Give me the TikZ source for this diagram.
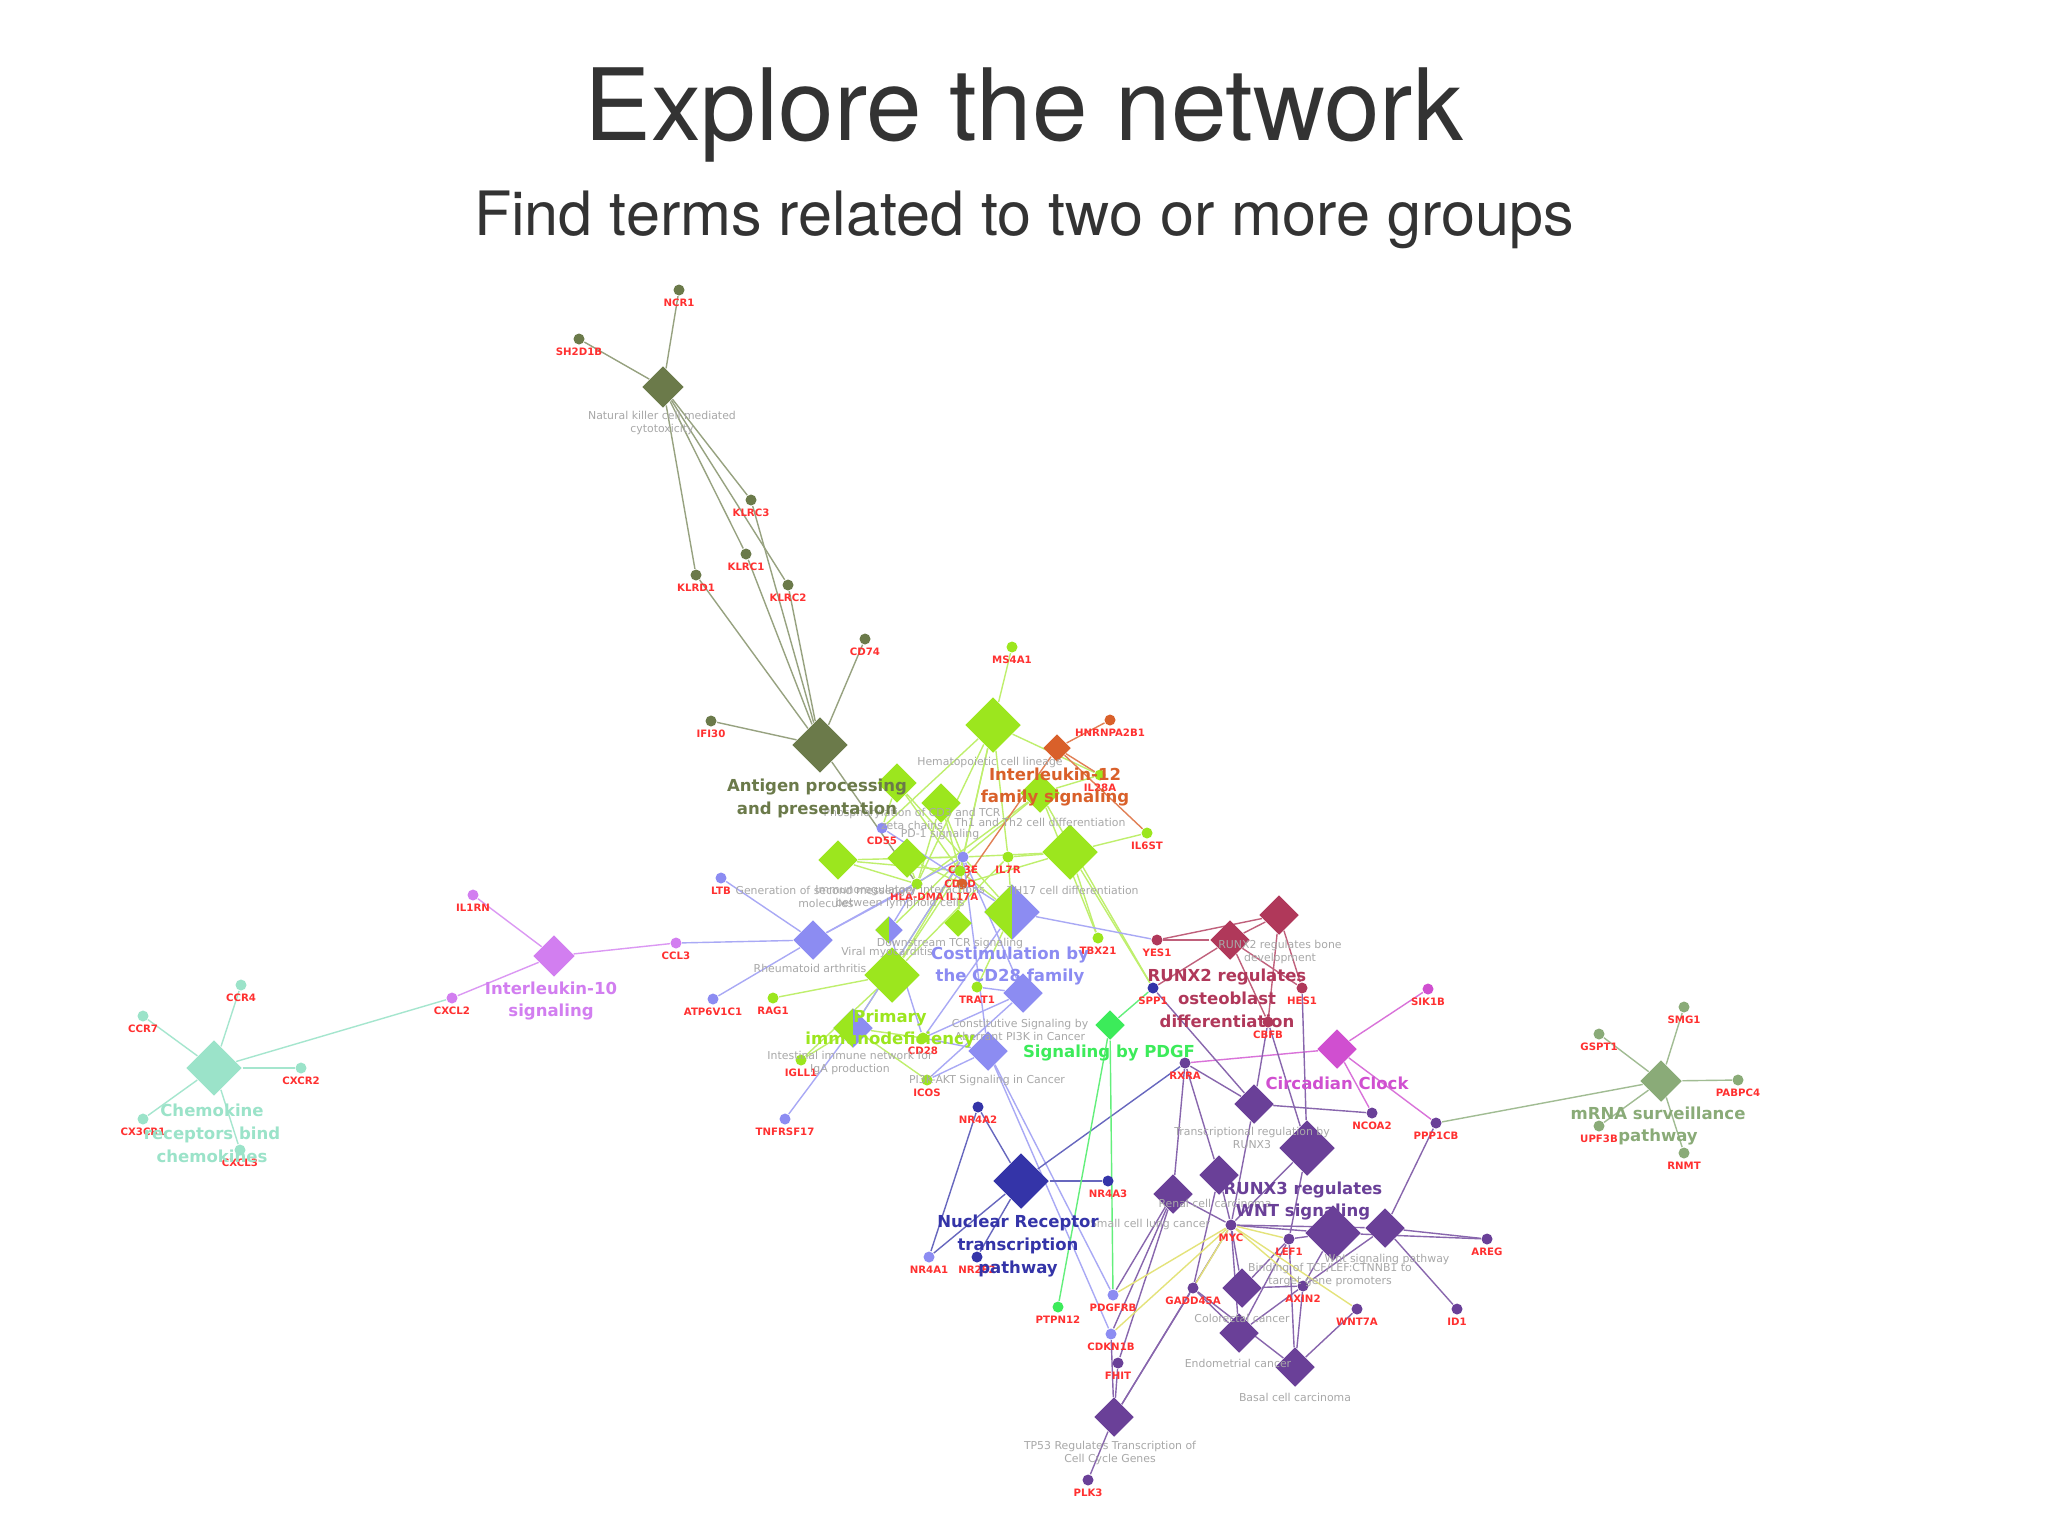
\documentclass[tikz,border=0pt]{standalone}
\usepackage{fontspec}
\usepackage{tikz}
\usetikzlibrary{shapes.geometric}
\usetikzlibrary{backgrounds}
\newfontfamily\netfont{DejaVu Sans}
\newfontfamily\headfont{TeX Gyre Heros}
\definecolor{olv}{HTML}{6B7A4A}
\definecolor{limeg}{HTML}{9CE61E}
\definecolor{orng}{HTML}{D9602A}
\definecolor{peri}{HTML}{8C8CF2}
\definecolor{vio}{HTML}{D27EF0}
\definecolor{mint}{HTML}{9BE3C9}
\definecolor{crim}{HTML}{B0385A}
\definecolor{mag}{HTML}{D04FD0}
\definecolor{purp}{HTML}{6A4098}
\definecolor{nrblue}{HTML}{3434A8}
\definecolor{pdgfg}{HTML}{3CEB5A}
\definecolor{sage}{HTML}{8AAB78}
\definecolor{genered}{HTML}{FF3030}
\definecolor{termgray}{HTML}{A8A8A8}
\definecolor{yel}{HTML}{E4E37A}
\tikzstyle{gene}=[circle,
inner sep=0pt,
minimum size=1.1mm,
fill=#1]
\tikzstyle{term}=[diamond,
inner sep=0pt,
minimum size=4mm,
fill=#1]
\tikzstyle{bigterm}=[term=#1,
minimum size=5.6mm]
\tikzstyle{smallterm}=[term=#1,
minimum size=2.8mm]
\tikzstyle{split}=[diamond,
inner sep=0pt,
fill=peri,
path picture={\fill[limeg] (path picture bounding box.south west) rectangle (path picture bounding box.north);}]
\tikzstyle{glbl}=[font=\netfont\fontsize{2.9}{3.4}\selectfont\bfseries,
text=genered,
inner sep=0.5pt]
\tikzstyle{tlbl}=[font=\netfont\fontsize{3.1}{3.9}\selectfont,
text=termgray,
align=center,
inner sep=0pt]
\tikzstyle{biglbl}=[font=\netfont\fontsize{4.7}{6.5}\selectfont\bfseries,
text=#1,
align=center,
inner sep=0pt]
\tikzstyle{link}=[draw=#1,
line width=0.14mm]

\begin{document}
\begin{tikzpicture}[x=0.1mm,y=-0.1mm]
	\useasboundingbox (0,0) rectangle (2048,1536);
	
	% Heading of the slide
	\node[anchor=base,inner sep=0pt,text=black!80,font=\headfont\fontsize{28.4}{34}\selectfont] (title) at (1024,140) {Explore the network};
	\node[anchor=base,inner sep=0pt,text=black!80,font=\headfont\fontsize{17.4}{21}\selectfont] (subtitle) at (1024,235) {Find terms related to two or more groups};
	
	% Natural killer / antigen group
	\node[term=olv,minimum size=4.2mm] (nk) at (663,387) {};
	\node[gene=olv,label={[glbl]below:NCR1}] (ncr1) at (679,290) {};
	\node[gene=olv,label={[glbl]below:SH2D1B}] (sh2d1b) at (579,339) {};
	\node[gene=olv,label={[glbl]below:KLRC3}] (klrc3) at (751,500) {};
	\node[gene=olv,label={[glbl]below:KLRC1}] (klrc1) at (746,554) {};
	\node[gene=olv,label={[glbl]below:KLRD1}] (klrd1) at (696,575) {};
	\node[gene=olv,label={[glbl]below:KLRC2}] (klrc2) at (788,585) {};
	\node[bigterm=olv] (antigen) at (820,745) {};
	\node[gene=olv,label={[glbl]below:CD74}] (cd74) at (865,639) {};
	\node[gene=olv,label={[glbl]below:IFI30}] (ifi30) at (711,721) {};
	
	% T cell terms
	\node[gene=limeg,label={[glbl]below:MS4A1}] (ms4a1) at (1012,647) {};
	\node[bigterm=limeg] (g1) at (993,725) {};
	\node[term=limeg] (g2) at (897,783) {};
	\node[term=limeg] (g3) at (941,803) {};
	\node[term=limeg] (g4) at (1040,793) {};
	\node[term=limeg] (g5) at (838,860) {};
	\node[term=limeg] (g6) at (907,858) {};
	\node[bigterm=limeg] (g7) at (1070,852) {};
	\node[smallterm=limeg] (g8) at (958,923) {};
	\node[bigterm=limeg] (g9) at (892,975) {};
	\node[split,minimum size=2.8mm] (gs1) at (889,930) {};
	\node[split,minimum size=5.6mm] (gs2) at (1012,912) {};
	\node[split,minimum size=4mm] (gs3) at (853,1028) {};
	\node[smallterm=orng] (il12) at (1057,748) {};
	\node[term=peri] (b1) at (813,940) {};
	\node[term=peri] (b2) at (1023,993) {};
	\node[term=peri] (b3) at (988,1051) {};
	\node[smallterm=pdgfg,minimum size=3mm] (pdgf) at (1110,1025) {};
	\node[gene=orng,label={[glbl]below:HNRNPA2B1}] (hnrnp) at (1110,720) {};
	\node[gene=limeg,label={[glbl]below:IL28A}] (il28a) at (1100,775) {};
	\node[gene=limeg,label={[glbl]below:IL6ST}] (il6st) at (1147,833) {};
	\node[gene=peri,label={[glbl]below:CD55}] (cd55) at (882,828) {};
	\node[gene=peri,label={[glbl]below:CD3E}] (cd3e) at (963,857) {};
	\node[gene=limeg,label={[glbl]below:CD3D}] (cd3d) at (960,871) {};
	\node[gene=orng,label={[glbl]below:IL17A}] (il17a) at (962,884) {};
	\node[gene=limeg,label={[glbl]below:IL7R}] (il7r) at (1008,857) {};
	\node[gene=limeg,label={[glbl]below:HLA-DMA}] (hladma) at (917,884) {};
	\node[gene=peri,label={[glbl]below:LTB}] (ltb) at (721,878) {};
	\node[gene=vio,label={[glbl]below:CCL3}] (ccl3) at (676,943) {};
	\node[gene=peri,label={[glbl]below:ATP6V1C1}] (atp) at (713,999) {};
	\node[gene=limeg,label={[glbl]below:RAG1}] (rag1) at (773,998) {};
	\node[gene=limeg,label={[glbl]below:TRAT1}] (trat1) at (977,987) {};
	\node[gene=limeg,label={[glbl]below:TBX21}] (tbx21) at (1098,938) {};
	\node[gene=limeg,label={[glbl]below:CD28}] (cd28) at (923,1038) {};
	\node[gene=limeg,label={[glbl]below:IGLL1}] (igll1) at (801,1060) {};
	\node[gene=limeg,label={[glbl]below:ICOS}] (icos) at (927,1080) {};
	\node[gene=peri,label={[glbl]below:TNFRSF17}] (tnfrsf17) at (785,1119) {};
	
	% Interleukin-10 and chemokines
	\node[term=vio,minimum size=4.2mm] (il10) at (554,956) {};
	\node[gene=vio,label={[glbl]below:IL1RN}] (il1rn) at (473,895) {};
	\node[gene=vio,label={[glbl]below:CXCL2}] (cxcl2) at (452,998) {};
	\node[bigterm=mint] (chm) at (214,1068) {};
	\node[gene=mint,label={[glbl]below:CCR4}] (ccr4) at (241,985) {};
	\node[gene=mint,label={[glbl]below:CCR7}] (ccr7) at (143,1016) {};
	\node[gene=mint,label={[glbl]below:CXCR2}] (cxcr2) at (301,1068) {};
	\node[gene=mint,label={[glbl]below:CX3CR1}] (cx3cr1) at (143,1119) {};
	\node[gene=mint,label={[glbl]below:CXCL3}] (cxcl3) at (240,1150) {};
	
	% RUNX2 and circadian clock
	\node[term=crim] (r2a) at (1230,940) {};
	\node[term=crim] (r2b) at (1279,915) {};
	\node[gene=crim,label={[glbl]below:YES1}] (yes1) at (1157,940) {};
	\node[gene=nrblue,label={[glbl]below:SPP1}] (spp1) at (1153,988) {};
	\node[gene=crim,label={[glbl]below:HES1}] (hes1) at (1302,988) {};
	\node[gene=crim,label={[glbl]below:CBFB}] (cbfb) at (1268,1022) {};
	\node[term=mag] (circ) at (1337,1049) {};
	\node[gene=mag,label={[glbl]below:SIK1B}] (sik1b) at (1428,989) {};
	\node[gene=purp,label={[glbl]below:RXRA}] (rxra) at (1185,1063) {};
	\node[gene=purp,label={[glbl]below:NCOA2}] (ncoa2) at (1372,1113) {};
	\node[gene=purp,label={[glbl]below:PPP1CB}] (ppp1cb) at (1436,1123) {};
	
	% RUNX3 / WNT group
	\node[term=purp] (p1) at (1254,1104) {};
	\node[bigterm=purp] (p2) at (1307,1148) {};
	\node[term=purp] (p3) at (1219,1175) {};
	\node[term=purp] (p4) at (1173,1194) {};
	\node[bigterm=purp] (p5) at (1333,1233) {};
	\node[term=purp] (p6) at (1385,1228) {};
	\node[term=purp] (p7) at (1242,1288) {};
	\node[term=purp] (p8) at (1239,1333) {};
	\node[term=purp] (p9) at (1295,1367) {};
	\node[term=purp] (p10) at (1114,1417) {};
	\node[gene=purp,label={[glbl]below:MYC}] (myc) at (1231,1225) {};
	\node[gene=purp,label={[glbl]below:LEF1}] (lef1) at (1289,1239) {};
	\node[gene=purp,label={[glbl]below:GADD45A}] (gadd45a) at (1193,1288) {};
	\node[gene=purp,label={[glbl]below:AXIN2}] (axin2) at (1303,1286) {};
	\node[gene=purp,label={[glbl]below:WNT7A}] (wnt7a) at (1357,1309) {};
	\node[gene=purp,label={[glbl]below:ID1}] (id1) at (1457,1309) {};
	\node[gene=purp,label={[glbl]below:AREG}] (areg) at (1487,1239) {};
	\node[gene=peri,label={[glbl]below:PDGFRB}] (pdgfrb) at (1113,1295) {};
	\node[gene=peri,label={[glbl]below:CDKN1B}] (cdkn1b) at (1111,1334) {};
	\node[gene=purp,label={[glbl]below:FHIT}] (fhit) at (1118,1363) {};
	\node[gene=purp,label={[glbl]below:PLK3}] (plk3) at (1088,1480) {};
	\node[gene=pdgfg,label={[glbl]below:PTPN12}] (ptpn12) at (1058,1307) {};
	
	% Nuclear receptors
	\node[bigterm=nrblue] (nr) at (1021,1181) {};
	\node[gene=nrblue,label={[glbl]below:NR4A2}] (nr4a2) at (978,1107) {};
	\node[gene=nrblue,label={[glbl]below:NR4A3}] (nr4a3) at (1108,1181) {};
	\node[gene=peri,label={[glbl]below:NR4A1}] (nr4a1) at (929,1257) {};
	\node[gene=nrblue,label={[glbl]below:NR2F2}] (nr2f2) at (977,1257) {};
	
	% mRNA surveillance
	\node[term=sage,minimum size=4.2mm] (mrna) at (1661,1081) {};
	\node[gene=sage,label={[glbl]below:SMG1}] (smg1) at (1684,1007) {};
	\node[gene=sage,label={[glbl]below:GSPT1}] (gspt1) at (1599,1034) {};
	\node[gene=sage,label={[glbl]below:PABPC4}] (pabpc4) at (1738,1080) {};
	\node[gene=sage,label={[glbl]below:UPF3B}] (upf3b) at (1599,1126) {};
	\node[gene=sage,label={[glbl]below:RNMT}] (rnmt) at (1684,1153) {};
	
	% Names of the single terms
	\node[tlbl] (t-nk) at (662,423) {Natural killer cell mediated\\cytotoxicity};
	\node[tlbl] (t-g1) at (990,762) {Hematopoietic cell lineage};
	\node[tlbl] (t-g2) at (912,819) {Phosphorylation of CD3 and TCR\\zeta chains};
	\node[tlbl] (t-g3) at (940,834) {PD-1 signaling};
	\node[tlbl] (t-g4) at (1040,822) {Th1 and Th2 cell differentiation};
	\node[tlbl] (t-g5) at (826,897) {Generation of second messenger\\molecules};
	\node[tlbl] (t-g6) at (900,897) {Immunoregulatory interactions\\between lymphoid cells};
	\node[tlbl] (t-g7) at (1073,890) {TH17 cell differentiation};
	\node[tlbl] (t-gs1) at (887,952) {Viral myocarditis};
	\node[tlbl] (t-g8) at (950,943) {Downstream TCR signaling};
	\node[tlbl] (t-b1) at (810,968) {Rheumatoid arthritis};
	\node[tlbl] (t-b2) at (1020,1030) {Constitutive Signaling by\\Aberrant PI3K in Cancer};
	\node[tlbl] (t-gs3) at (850,1063) {Intestinal immune network for\\IgA production};
	\node[tlbl] (t-b3) at (987,1080) {PI3K-AKT Signaling in Cancer};
	\node[tlbl] (t-r2b) at (1280,952) {RUNX2 regulates bone\\development};
	\node[tlbl] (t-p1) at (1252,1138) {Transcriptional regulation by\\RUNX3};
	\node[tlbl] (t-p4) at (1150,1224) {Small cell lung cancer};
	\node[tlbl] (t-p3) at (1215,1203) {Renal cell carcinoma};
	\node[tlbl] (t-p6) at (1387,1259) {Wnt signaling pathway};
	\node[tlbl] (t-p7) at (1330,1275) {Binding of TCF/LEF:CTNNB1 to\\target gene promoters};
	\node[tlbl] (t-p8) at (1242,1318) {Colorectal cancer};
	\node[tlbl] (t-p9a) at (1238,1363) {Endometrial cancer};
	\node[tlbl] (t-p9) at (1295,1397) {Basal cell carcinoma};
	\node[tlbl] (t-p10) at (1110,1453) {TP53 Regulates Transcription of\\Cell Cycle Genes};
	
	% Names of the groups
	\node[biglbl=olv] (l-antigen) at (817,798) {Antigen processing\\and presentation};
	\node[biglbl=orng] (l-il12) at (1055,787) {Interleukin-12\\family signaling};
	\node[biglbl=peri] (l-costim) at (1010,966) {Costimulation by\\the CD28 family};
	\node[biglbl=limeg] (l-primary) at (890,1029) {Primary\\immunodeficiency};
	\node[biglbl=pdgfg] (l-pdgf) at (1109,1053) {Signaling by PDGF};
	\node[biglbl=vio] (l-il10) at (551,1001) {Interleukin-10\\signaling};
	\node[biglbl=mint] (l-chm) at (212,1133) {Chemokine\\receptors bind\\chemokines};
	\node[biglbl=crim] (l-runx2) at (1227,998) {RUNX2 regulates\\osteoblast\\differentiation};
	\node[biglbl=mag] (l-circ) at (1337,1083) {Circadian Clock};
	\node[biglbl=purp] (l-runx3) at (1303,1201) {RUNX3 regulates\\WNT signaling};
	\node[biglbl=nrblue] (l-nr) at (1018,1246) {Nuclear Receptor\\transcription\\pathway};
	\node[biglbl=sage] (l-mrna) at (1658,1126) {mRNA surveillance\\pathway};
	
	% The connections go behind all nodes
	\begin{pgfonlayer}{background}
	\fill[white] (0,0) rectangle (2048,1536);
	\path[link=olv!70]
	(nk) edge (ncr1) edge (sh2d1b) edge (klrd1) edge (klrc1) edge (klrc3) edge (klrc2)
	(antigen) edge (klrd1) edge (klrc1) edge (klrc3) edge (klrc2) edge (ifi30) edge (cd74) edge (hladma)
	;
	\path[link=limeg!65]
	(g1) edge (ms4a1) edge (cd3e) edge (cd3d) edge (il7r) edge (cd55) edge (hladma) edge (il28a)
	(g2) edge (cd3e) edge (cd3d) edge (cd55)
	(g3) edge (cd3e) edge (cd3d) edge (hladma)
	(g4) edge (cd3e) edge (tbx21) edge (hladma) edge (il28a) edge (spp1)
	(g5) edge (cd3e) edge (cd3d) edge (hladma)
	(g6) edge (cd3e) edge (il17a) edge (hladma)
	(g7) edge (il7r) edge (cd3e) edge (tbx21) edge (il6st) edge (il17a) edge (spp1)
	(gs1) edge (cd3e)
	(g8) edge (cd3e) edge (cd3d)
	(gs2) edge (cd3e) edge (cd3d) edge (trat1) edge (il7r)
	(g9) edge (cd3e) edge (rag1) edge (il7r) edge (cd3d) edge (igll1)
	(gs3) edge (igll1) edge (icos) edge (cd3e) edge (cd28)
	;
	\path[link=orng!80]
	(il12) edge (hnrnp) edge (il28a) edge (il6st) edge (il17a)
	;
	\path[link=peri!75]
	(b1) edge (ltb) edge (ccl3) edge (atp) edge (cd3e) edge (hladma)
	(gs1) edge (hladma) edge (cd28)
	(gs2) edge (yes1) edge (cd28) edge (cd55)
	(gs3) edge (tnfrsf17) edge (cd3e)
	(b2) edge (trat1) edge (cd28) edge (icos) edge (cd3e)
	(b3) edge (icos) edge (cd28) edge (pdgfrb) edge (cdkn1b) edge (cd3e)
	;
	\path[link=vio!80]
	(il10) edge (il1rn) edge (cxcl2) edge (ccl3)
	;
	\path[link=mint!90]
	(chm) edge (ccr4) edge (ccr7) edge (cxcr2) edge (cx3cr1) edge (cxcl3) edge (cxcl2)
	;
	\path[link=nrblue!75]
	(nr) edge (nr4a2) edge (nr4a3) edge (nr4a1) edge (nr2f2) edge (rxra)
	(nr4a2) edge (nr4a1)
	;
	\path[link=pdgfg!80]
	(pdgf) edge (ptpn12) edge (pdgfrb) edge (spp1)
	;
	\path[link=crim!80]
	(r2a) edge (yes1) edge (r2b) edge (hes1) edge (cbfb) edge (spp1)
	(r2b) edge (yes1) edge (cbfb) edge (hes1)
	;
	\path[link=mag!80]
	(circ) edge (sik1b) edge (rxra) edge (ncoa2) edge (ppp1cb)
	;
	\path[link=purp!80]
	(p1) edge (rxra) edge (cbfb) edge (ncoa2) edge (spp1) edge (myc)
	(p2) edge (cbfb) edge (hes1) edge (lef1) edge (myc)
	(p3) edge (rxra) edge (myc) edge (gadd45a)
	(p4) edge (rxra) edge (myc) edge (cdkn1b) edge (fhit) edge (pdgfrb)
	(p5) edge (myc) edge (lef1) edge (axin2) edge (areg)
	(p6) edge (ppp1cb) edge (areg) edge (id1) edge (myc) edge (axin2)
	(p7) edge (myc) edge (lef1) edge (axin2)
	(p8) edge (myc) edge (gadd45a) edge (axin2) edge (lef1)
	(p9) edge (lef1) edge (axin2) edge (wnt7a) edge (gadd45a)
	(p10) edge (cdkn1b) edge (fhit) edge (plk3) edge (gadd45a) edge (myc)
	;
	\path[link=yel]
	(myc) edge (cdkn1b) edge (pdgfrb) edge (gadd45a) edge (wnt7a) edge (axin2) edge (lef1)
	;
	\path[link=sage!80]
	(mrna) edge (smg1) edge (gspt1) edge (pabpc4) edge (upf3b) edge (rnmt) edge (ppp1cb)
	;
	\end{pgfonlayer}
\end{tikzpicture}
\end{document}
